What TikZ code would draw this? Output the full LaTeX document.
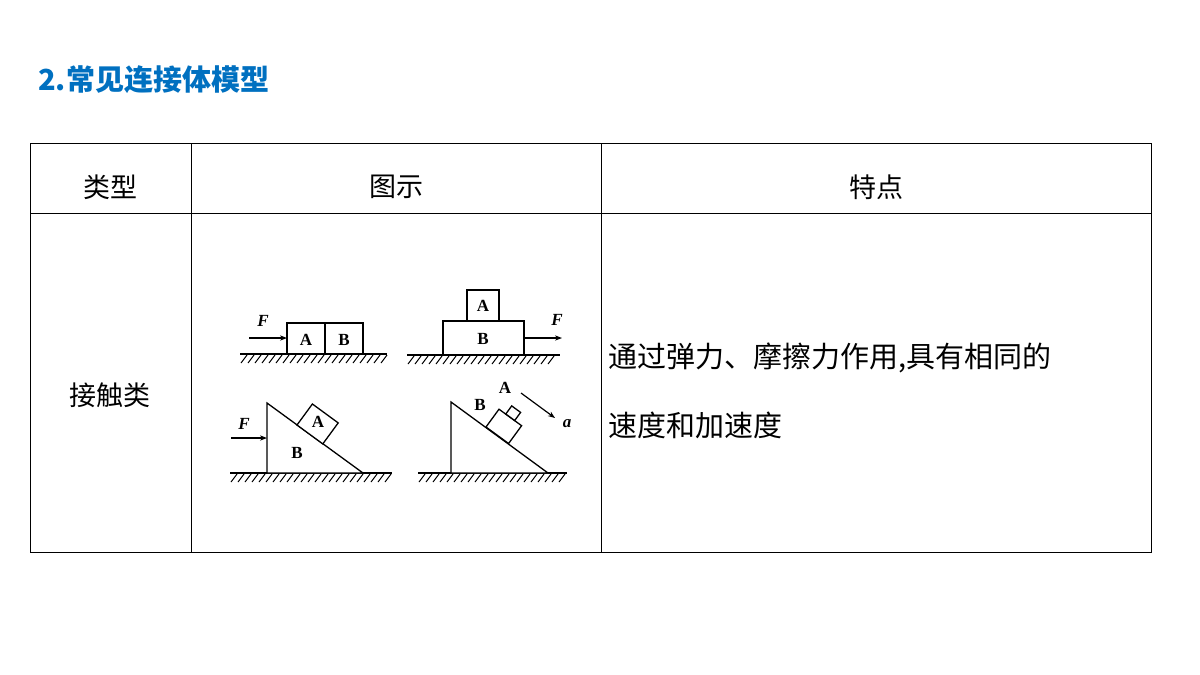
\documentclass[tikz,border=0pt]{standalone}
\usepackage{fontspec}
\setmainfont{Liberation Serif}
\newfontfamily\cjk{Noto Sans CJK SC}
\definecolor{titleblue}{RGB}{0,112,192}
\usetikzlibrary{arrows.meta}
\tikzset{
  grid/.style={line width=1pt},
  body/.style={draw, line width=1.3pt, fill=white},
  lbl/.style={font=\fontsize{17}{17}\selectfont\bfseries, inner sep=0pt},
  force/.style={line width=1.2pt, -{Stealth[length=7pt]}},
  cell/.style={font=\cjk\fontsize{27}{27}\selectfont, inner sep=0pt}
}
\newcommand{\ground}[3]{% x0, x1, y
  \draw[line width=1.3pt] (#1,#3) -- (#2,#3);
  \pgfmathtruncatemacro\hn{(#2-#1)/7}
  \foreach \i in {1,...,\hn} \draw[line width=1pt] ({#1+7*\i},{#3+1}) -- ({#1+7*\i-6},{#3+9});
}
\begin{document}
\begin{tikzpicture}[x=1pt,y=-1pt]
\useasboundingbox (0,0) rectangle (1200,675);
\node[font=\cjk\fontsize{29}{29}\selectfont\bfseries, text=titleblue, anchor=west, inner sep=0pt] (title) at (38,80) {2.常见连接体模型};

% table
\draw[grid] (30,143) rectangle (1151,552);
\draw[grid] (30,213) -- (1151,213);
\draw[grid] (191,143) -- (191,552);
\draw[grid] (601,143) -- (601,552);
\node[cell] (h1) at (110,187) {类型};
\node[cell] (h2) at (396,187) {图示};
\node[cell] (h3) at (876,187) {特点};
\node[cell] (kind) at (110,395) {接触类};
\node[cell, anchor=west, font=\cjk\fontsize{29}{29}\selectfont] (feat1) at (608,358) {通过弹力、摩擦力作用,具有相同的};
\node[cell, anchor=west, font=\cjk\fontsize{29}{29}\selectfont] (feat2) at (608,425) {速度和加速度};

% panel 1
\ground{240}{387}{354}
\draw[body] (287,354) rectangle (325,323);
\draw[body] (325,354) rectangle (363,323);
\node[lbl] (a1) at (306,340) {A};
\node[lbl] (b1) at (344,340) {B};
\coordinate (f1) at (249,338);
\draw[force] (f1) -- (287,338);
\node[lbl, font=\fontsize{17}{17}\selectfont\bfseries\itshape] (F1) at (263,321) {F};

% panel 2
\ground{407}{560}{355}
\draw[body] (443,355) rectangle (524,321);
\draw[body] (467,321) rectangle (499,290);
\node[lbl] (a2) at (483,306) {A};
\node[lbl] (b2) at (483,339) {B};
\coordinate (f2) at (562,338);
\draw[force] (524,338) -- (f2);
\node[lbl, font=\fontsize{17}{17}\selectfont\bfseries\itshape] (F2) at (557,320) {F};

% panel 3
\ground{230}{392}{473}
\draw[body] (267,473) -- (267,403) -- (363,473) -- cycle;
\draw[body] (297,425) -- (322.8,443.9) -- (338.2,422.9) -- (312.4,404.0) -- cycle;
\node[lbl] (a3) at (318,422) {A};
\node[lbl] (b3) at (297,453) {B};
\coordinate (f3) at (231,438);
\draw[force] (f3) -- (267,438);
\node[lbl, font=\fontsize{17}{17}\selectfont\bfseries\itshape] (F3) at (244,424) {F};

% panel 4
\ground{418}{567}{473}
\draw[body] (451,473) -- (451,402) -- (548,473) -- cycle;
\draw[body] (486,427) -- (508.6,443.5) -- (521.6,425.7) -- (499,409.2) -- cycle;
\draw[body] (505.8,414) -- (514.7,420.5) -- (520.6,412.4) -- (511.7,405.9) -- cycle;
\node[lbl] (b4) at (480,405) {B};
\node[lbl] (a4) at (505,388) {A};
\coordinate (acc) at (555,418);
\draw[force] (521,393) -- (acc);
\node[lbl, font=\fontsize{17}{17}\selectfont\bfseries\itshape] (acclbl) at (567,424) {a};
\end{tikzpicture}
\end{document}
